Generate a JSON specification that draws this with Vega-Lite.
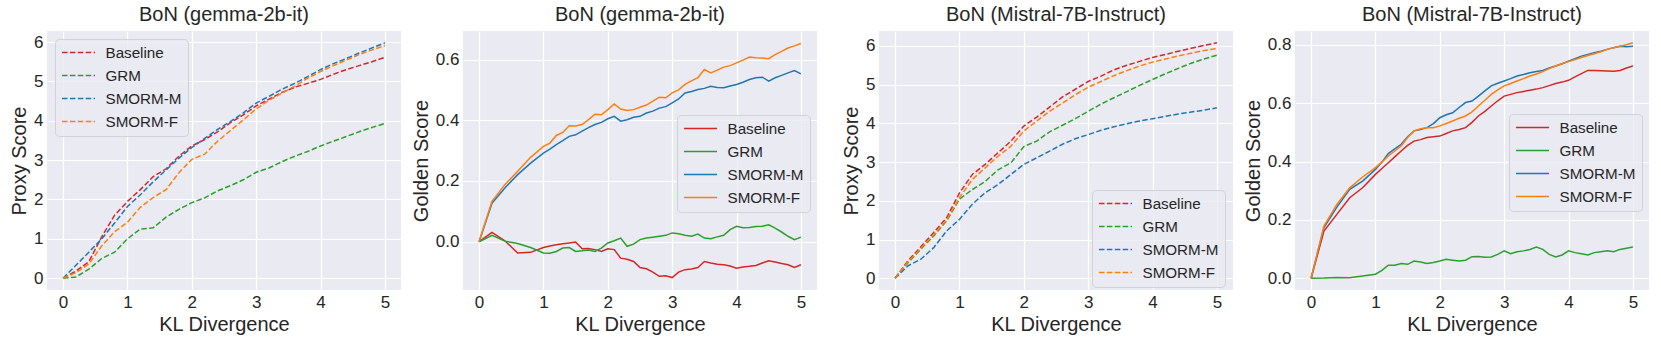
{
  "$schema": "https://vega.github.io/schema/vega-lite/v6.json",
  "background": "white",
  "padding": {"left": 9, "top": 5, "right": 2, "bottom": 5},
  "bounds": "flush",
  "spacing": 62,
  "config": {
    "font": "Liberation Sans",
    "view": {"fill": "#EAEAF2", "stroke": null},
    "axis": {
      "domain": false, "ticks": false, "grid": true, "gridColor": "white", "gridWidth": 1.2,
      "labelFont": "Liberation Sans", "labelFontSize": 17, "labelColor": "#262626", "labelPadding": 4,
      "titleFont": "Liberation Sans", "titleFontSize": 20, "titleColor": "#262626", "titleFontWeight": "normal", "titlePadding": 4
    },
    "title": {"font": "Liberation Sans", "fontSize": 20, "fontWeight": "normal", "color": "#262626", "offset": 6},
    "legend": {
      "labelFont": "Liberation Sans", "labelFontSize": 15.2, "labelColor": "#262626",
      "symbolType": "stroke", "symbolStrokeWidth": 1.5, "symbolSize": 1089, "clipHeight": 15, "rowPadding": 7, "labelOffset": 9.5,
      "fillColor": "rgba(234,234,242,0.8)", "strokeColor": "rgba(204,204,204,0.8)", "cornerRadius": 4, "padding": 6,
      "title": null
    }
  },
  "datasets": {
    "p1": [
      {"kl": 0, "Baseline": 0, "GRM": 0, "SMORM-M": 0, "SMORM-F": 0},
      {"kl": 0.2, "Baseline": 0.18, "GRM": 0.03, "SMORM-M": 0.33, "SMORM-F": 0.14},
      {"kl": 0.4, "Baseline": 0.42, "GRM": 0.23, "SMORM-M": 0.66, "SMORM-F": 0.36},
      {"kl": 0.6, "Baseline": 1.05, "GRM": 0.5, "SMORM-M": 1.0, "SMORM-F": 0.82},
      {"kl": 0.8, "Baseline": 1.6, "GRM": 0.66, "SMORM-M": 1.4, "SMORM-F": 1.18},
      {"kl": 1.0, "Baseline": 1.95, "GRM": 1.0, "SMORM-M": 1.82, "SMORM-F": 1.42},
      {"kl": 1.2, "Baseline": 2.25, "GRM": 1.25, "SMORM-M": 2.12, "SMORM-F": 1.8},
      {"kl": 1.4, "Baseline": 2.58, "GRM": 1.28, "SMORM-M": 2.45, "SMORM-F": 2.05},
      {"kl": 1.6, "Baseline": 2.78, "GRM": 1.55, "SMORM-M": 2.75, "SMORM-F": 2.25},
      {"kl": 1.8, "Baseline": 3.1, "GRM": 1.75, "SMORM-M": 3.05, "SMORM-F": 2.68},
      {"kl": 2.0, "Baseline": 3.36, "GRM": 1.92, "SMORM-M": 3.32, "SMORM-F": 3.02},
      {"kl": 2.2, "Baseline": 3.52, "GRM": 2.04, "SMORM-M": 3.55, "SMORM-F": 3.15},
      {"kl": 2.4, "Baseline": 3.72, "GRM": 2.22, "SMORM-M": 3.78, "SMORM-F": 3.48},
      {"kl": 2.6, "Baseline": 3.95, "GRM": 2.35, "SMORM-M": 3.98, "SMORM-F": 3.75},
      {"kl": 2.8, "Baseline": 4.15, "GRM": 2.5, "SMORM-M": 4.2, "SMORM-F": 4.02},
      {"kl": 3.0, "Baseline": 4.38, "GRM": 2.69, "SMORM-M": 4.45, "SMORM-F": 4.3},
      {"kl": 3.2, "Baseline": 4.55, "GRM": 2.8, "SMORM-M": 4.62, "SMORM-F": 4.52},
      {"kl": 3.4, "Baseline": 4.72, "GRM": 2.96, "SMORM-M": 4.8, "SMORM-F": 4.7},
      {"kl": 3.6, "Baseline": 4.85, "GRM": 3.1, "SMORM-M": 4.95, "SMORM-F": 4.88},
      {"kl": 3.8, "Baseline": 4.95, "GRM": 3.22, "SMORM-M": 5.12, "SMORM-F": 5.08},
      {"kl": 4.0, "Baseline": 5.05, "GRM": 3.36, "SMORM-M": 5.3, "SMORM-F": 5.25},
      {"kl": 4.2, "Baseline": 5.18, "GRM": 3.48, "SMORM-M": 5.45, "SMORM-F": 5.4},
      {"kl": 4.4, "Baseline": 5.3, "GRM": 3.6, "SMORM-M": 5.58, "SMORM-F": 5.54},
      {"kl": 4.6, "Baseline": 5.4, "GRM": 3.72, "SMORM-M": 5.72, "SMORM-F": 5.68},
      {"kl": 4.8, "Baseline": 5.5, "GRM": 3.83, "SMORM-M": 5.85, "SMORM-F": 5.8},
      {"kl": 5.0, "Baseline": 5.61, "GRM": 3.93, "SMORM-M": 5.98, "SMORM-F": 5.91}
    ],
    "p2": [
      {"kl": 0, "Baseline": 0, "GRM": 0, "SMORM-M": 0, "SMORM-F": 0},
      {"kl": 0.2, "Baseline": 0.031, "GRM": 0.021, "SMORM-M": 0.127, "SMORM-F": 0.133},
      {"kl": 0.4, "Baseline": 0.003, "GRM": 0.002, "SMORM-M": 0.177, "SMORM-F": 0.188},
      {"kl": 0.6, "Baseline": -0.037, "GRM": -0.006, "SMORM-M": 0.221, "SMORM-F": 0.232},
      {"kl": 0.8, "Baseline": -0.035, "GRM": -0.019, "SMORM-M": 0.259, "SMORM-F": 0.278},
      {"kl": 1.0, "Baseline": -0.019, "GRM": -0.037, "SMORM-M": 0.292, "SMORM-F": 0.314},
      {"kl": 1.1, "Baseline": -0.014, "GRM": -0.038, "SMORM-M": 0.305, "SMORM-F": 0.325},
      {"kl": 1.2, "Baseline": -0.01, "GRM": -0.032, "SMORM-M": 0.32, "SMORM-F": 0.35},
      {"kl": 1.3, "Baseline": -0.007, "GRM": -0.021, "SMORM-M": 0.333, "SMORM-F": 0.36},
      {"kl": 1.4, "Baseline": -0.004, "GRM": -0.019, "SMORM-M": 0.347, "SMORM-F": 0.382},
      {"kl": 1.5, "Baseline": -0.001, "GRM": -0.032, "SMORM-M": 0.352, "SMORM-F": 0.381},
      {"kl": 1.6, "Baseline": -0.023, "GRM": -0.03, "SMORM-M": 0.364, "SMORM-F": 0.386},
      {"kl": 1.7, "Baseline": -0.022, "GRM": -0.027, "SMORM-M": 0.376, "SMORM-F": 0.402},
      {"kl": 1.8, "Baseline": -0.026, "GRM": -0.032, "SMORM-M": 0.386, "SMORM-F": 0.42},
      {"kl": 1.9, "Baseline": -0.032, "GRM": -0.021, "SMORM-M": 0.393, "SMORM-F": 0.418},
      {"kl": 2.0, "Baseline": -0.023, "GRM": -0.004, "SMORM-M": 0.405, "SMORM-F": 0.435},
      {"kl": 2.1, "Baseline": -0.026, "GRM": 0.003, "SMORM-M": 0.413, "SMORM-F": 0.454},
      {"kl": 2.2, "Baseline": -0.054, "GRM": 0.012, "SMORM-M": 0.397, "SMORM-F": 0.437},
      {"kl": 2.3, "Baseline": -0.058, "GRM": -0.015, "SMORM-M": 0.402, "SMORM-F": 0.432},
      {"kl": 2.4, "Baseline": -0.065, "GRM": -0.008, "SMORM-M": 0.41, "SMORM-F": 0.435},
      {"kl": 2.5, "Baseline": -0.085, "GRM": 0.007, "SMORM-M": 0.413, "SMORM-F": 0.443},
      {"kl": 2.6, "Baseline": -0.089, "GRM": 0.012, "SMORM-M": 0.424, "SMORM-F": 0.45},
      {"kl": 2.7, "Baseline": -0.1, "GRM": 0.015, "SMORM-M": 0.43, "SMORM-F": 0.463},
      {"kl": 2.8, "Baseline": -0.114, "GRM": 0.018, "SMORM-M": 0.44, "SMORM-F": 0.476},
      {"kl": 2.9, "Baseline": -0.112, "GRM": 0.021, "SMORM-M": 0.445, "SMORM-F": 0.474},
      {"kl": 3.0, "Baseline": -0.118, "GRM": 0.029, "SMORM-M": 0.457, "SMORM-F": 0.49},
      {"kl": 3.1, "Baseline": -0.1, "GRM": 0.026, "SMORM-M": 0.47, "SMORM-F": 0.5},
      {"kl": 3.2, "Baseline": -0.092, "GRM": 0.021, "SMORM-M": 0.49, "SMORM-F": 0.518},
      {"kl": 3.3, "Baseline": -0.09, "GRM": 0.018, "SMORM-M": 0.495, "SMORM-F": 0.53},
      {"kl": 3.4, "Baseline": -0.085, "GRM": 0.025, "SMORM-M": 0.501, "SMORM-F": 0.54},
      {"kl": 3.5, "Baseline": -0.065, "GRM": 0.012, "SMORM-M": 0.505, "SMORM-F": 0.567},
      {"kl": 3.6, "Baseline": -0.07, "GRM": 0.01, "SMORM-M": 0.512, "SMORM-F": 0.556},
      {"kl": 3.7, "Baseline": -0.074, "GRM": 0.016, "SMORM-M": 0.508, "SMORM-F": 0.565},
      {"kl": 3.8, "Baseline": -0.076, "GRM": 0.021, "SMORM-M": 0.507, "SMORM-F": 0.575},
      {"kl": 3.9, "Baseline": -0.08, "GRM": 0.04, "SMORM-M": 0.513, "SMORM-F": 0.58},
      {"kl": 4.0, "Baseline": -0.087, "GRM": 0.051, "SMORM-M": 0.518, "SMORM-F": 0.589},
      {"kl": 4.1, "Baseline": -0.083, "GRM": 0.046, "SMORM-M": 0.525, "SMORM-F": 0.598},
      {"kl": 4.2, "Baseline": -0.081, "GRM": 0.047, "SMORM-M": 0.534, "SMORM-F": 0.608},
      {"kl": 4.3, "Baseline": -0.078, "GRM": 0.05, "SMORM-M": 0.54, "SMORM-F": 0.606},
      {"kl": 4.4, "Baseline": -0.07, "GRM": 0.051, "SMORM-M": 0.542, "SMORM-F": 0.605},
      {"kl": 4.5, "Baseline": -0.063, "GRM": 0.056, "SMORM-M": 0.529, "SMORM-F": 0.603},
      {"kl": 4.6, "Baseline": -0.067, "GRM": 0.045, "SMORM-M": 0.54, "SMORM-F": 0.616},
      {"kl": 4.7, "Baseline": -0.072, "GRM": 0.032, "SMORM-M": 0.548, "SMORM-F": 0.627},
      {"kl": 4.8, "Baseline": -0.076, "GRM": 0.018, "SMORM-M": 0.556, "SMORM-F": 0.638},
      {"kl": 4.9, "Baseline": -0.085, "GRM": 0.007, "SMORM-M": 0.564, "SMORM-F": 0.645},
      {"kl": 5.0, "Baseline": -0.076, "GRM": 0.015, "SMORM-M": 0.553, "SMORM-F": 0.653}
    ],
    "p3": [
      {"kl": 0, "Baseline": 0, "GRM": 0, "SMORM-M": 0, "SMORM-F": 0},
      {"kl": 0.2, "Baseline": 0.45, "GRM": 0.4, "SMORM-M": 0.32, "SMORM-F": 0.42},
      {"kl": 0.4, "Baseline": 0.81, "GRM": 0.75, "SMORM-M": 0.49, "SMORM-F": 0.77},
      {"kl": 0.6, "Baseline": 1.18, "GRM": 1.09, "SMORM-M": 0.79, "SMORM-F": 1.12},
      {"kl": 0.8, "Baseline": 1.56, "GRM": 1.48, "SMORM-M": 1.22, "SMORM-F": 1.5},
      {"kl": 1.0, "Baseline": 2.2, "GRM": 2.04, "SMORM-M": 1.52, "SMORM-F": 2.08},
      {"kl": 1.2, "Baseline": 2.68, "GRM": 2.29, "SMORM-M": 1.91, "SMORM-F": 2.55},
      {"kl": 1.4, "Baseline": 2.94, "GRM": 2.5, "SMORM-M": 2.21, "SMORM-F": 2.85},
      {"kl": 1.6, "Baseline": 3.24, "GRM": 2.8, "SMORM-M": 2.42, "SMORM-F": 3.15},
      {"kl": 1.8, "Baseline": 3.54, "GRM": 2.98, "SMORM-M": 2.68, "SMORM-F": 3.41},
      {"kl": 2.0, "Baseline": 3.93, "GRM": 3.4, "SMORM-M": 2.94, "SMORM-F": 3.8},
      {"kl": 2.2, "Baseline": 4.16, "GRM": 3.54, "SMORM-M": 3.11, "SMORM-F": 4.06},
      {"kl": 2.4, "Baseline": 4.42, "GRM": 3.78, "SMORM-M": 3.28, "SMORM-F": 4.31},
      {"kl": 2.6, "Baseline": 4.68, "GRM": 3.95, "SMORM-M": 3.46, "SMORM-F": 4.52},
      {"kl": 2.8, "Baseline": 4.88, "GRM": 4.12, "SMORM-M": 3.6, "SMORM-F": 4.74},
      {"kl": 3.0, "Baseline": 5.08, "GRM": 4.31, "SMORM-M": 3.71, "SMORM-F": 4.93},
      {"kl": 3.2, "Baseline": 5.22, "GRM": 4.5, "SMORM-M": 3.82, "SMORM-F": 5.08},
      {"kl": 3.4, "Baseline": 5.38, "GRM": 4.66, "SMORM-M": 3.91, "SMORM-F": 5.23},
      {"kl": 3.6, "Baseline": 5.5, "GRM": 4.82, "SMORM-M": 3.99, "SMORM-F": 5.36},
      {"kl": 3.8, "Baseline": 5.6, "GRM": 4.98, "SMORM-M": 4.06, "SMORM-F": 5.48},
      {"kl": 4.0, "Baseline": 5.7, "GRM": 5.13, "SMORM-M": 4.12, "SMORM-F": 5.58},
      {"kl": 4.2, "Baseline": 5.78, "GRM": 5.28, "SMORM-M": 4.18, "SMORM-F": 5.66},
      {"kl": 4.4, "Baseline": 5.86, "GRM": 5.42, "SMORM-M": 4.24, "SMORM-F": 5.74},
      {"kl": 4.6, "Baseline": 5.94, "GRM": 5.55, "SMORM-M": 4.29, "SMORM-F": 5.81},
      {"kl": 4.8, "Baseline": 6.01, "GRM": 5.66, "SMORM-M": 4.34, "SMORM-F": 5.88},
      {"kl": 5.0, "Baseline": 6.08, "GRM": 5.76, "SMORM-M": 4.4, "SMORM-F": 5.93}
    ],
    "p4": [
      {"kl": 0, "Baseline": 0, "GRM": 0, "SMORM-M": 0, "SMORM-F": 0},
      {"kl": 0.2, "Baseline": 0.162, "GRM": 0.001, "SMORM-M": 0.174, "SMORM-F": 0.179},
      {"kl": 0.4, "Baseline": 0.219, "GRM": 0.003, "SMORM-M": 0.244, "SMORM-F": 0.253},
      {"kl": 0.6, "Baseline": 0.276, "GRM": 0.002, "SMORM-M": 0.305, "SMORM-F": 0.31},
      {"kl": 0.8, "Baseline": 0.31, "GRM": 0.008, "SMORM-M": 0.333, "SMORM-F": 0.347},
      {"kl": 1.0, "Baseline": 0.356, "GRM": 0.014, "SMORM-M": 0.373, "SMORM-F": 0.379},
      {"kl": 1.1, "Baseline": 0.376, "GRM": 0.027, "SMORM-M": 0.398, "SMORM-F": 0.398},
      {"kl": 1.2, "Baseline": 0.396, "GRM": 0.045, "SMORM-M": 0.427, "SMORM-F": 0.419},
      {"kl": 1.3, "Baseline": 0.416, "GRM": 0.045, "SMORM-M": 0.443, "SMORM-F": 0.436},
      {"kl": 1.4, "Baseline": 0.436, "GRM": 0.051, "SMORM-M": 0.459, "SMORM-F": 0.453},
      {"kl": 1.5, "Baseline": 0.455, "GRM": 0.048, "SMORM-M": 0.485, "SMORM-F": 0.482},
      {"kl": 1.6, "Baseline": 0.47, "GRM": 0.059, "SMORM-M": 0.505, "SMORM-F": 0.505},
      {"kl": 1.7, "Baseline": 0.475, "GRM": 0.056, "SMORM-M": 0.51, "SMORM-F": 0.512},
      {"kl": 1.8, "Baseline": 0.482, "GRM": 0.051, "SMORM-M": 0.516, "SMORM-F": 0.516},
      {"kl": 1.9, "Baseline": 0.485, "GRM": 0.054, "SMORM-M": 0.53, "SMORM-F": 0.516},
      {"kl": 2.0, "Baseline": 0.487, "GRM": 0.059, "SMORM-M": 0.55, "SMORM-F": 0.522},
      {"kl": 2.1, "Baseline": 0.496, "GRM": 0.065, "SMORM-M": 0.56, "SMORM-F": 0.53},
      {"kl": 2.2, "Baseline": 0.505, "GRM": 0.062, "SMORM-M": 0.567, "SMORM-F": 0.539},
      {"kl": 2.3, "Baseline": 0.51, "GRM": 0.059, "SMORM-M": 0.585, "SMORM-F": 0.548},
      {"kl": 2.4, "Baseline": 0.516, "GRM": 0.062, "SMORM-M": 0.602, "SMORM-F": 0.556},
      {"kl": 2.5, "Baseline": 0.534, "GRM": 0.074, "SMORM-M": 0.607, "SMORM-F": 0.57},
      {"kl": 2.6, "Baseline": 0.556, "GRM": 0.075, "SMORM-M": 0.624, "SMORM-F": 0.59},
      {"kl": 2.7, "Baseline": 0.572, "GRM": 0.072, "SMORM-M": 0.642, "SMORM-F": 0.61},
      {"kl": 2.8, "Baseline": 0.59, "GRM": 0.073, "SMORM-M": 0.659, "SMORM-F": 0.63},
      {"kl": 2.9, "Baseline": 0.608, "GRM": 0.082, "SMORM-M": 0.668, "SMORM-F": 0.645},
      {"kl": 3.0, "Baseline": 0.624, "GRM": 0.094, "SMORM-M": 0.676, "SMORM-F": 0.659},
      {"kl": 3.1, "Baseline": 0.63, "GRM": 0.084, "SMORM-M": 0.684, "SMORM-F": 0.667},
      {"kl": 3.2, "Baseline": 0.636, "GRM": 0.091, "SMORM-M": 0.693, "SMORM-F": 0.676},
      {"kl": 3.3, "Baseline": 0.64, "GRM": 0.094, "SMORM-M": 0.698, "SMORM-F": 0.684},
      {"kl": 3.4, "Baseline": 0.644, "GRM": 0.099, "SMORM-M": 0.704, "SMORM-F": 0.693},
      {"kl": 3.5, "Baseline": 0.648, "GRM": 0.107, "SMORM-M": 0.708, "SMORM-F": 0.7},
      {"kl": 3.6, "Baseline": 0.653, "GRM": 0.099, "SMORM-M": 0.712, "SMORM-F": 0.708},
      {"kl": 3.7, "Baseline": 0.66, "GRM": 0.082, "SMORM-M": 0.72, "SMORM-F": 0.718},
      {"kl": 3.8, "Baseline": 0.667, "GRM": 0.073, "SMORM-M": 0.727, "SMORM-F": 0.727},
      {"kl": 3.9, "Baseline": 0.672, "GRM": 0.08, "SMORM-M": 0.735, "SMORM-F": 0.735},
      {"kl": 4.0, "Baseline": 0.678, "GRM": 0.094, "SMORM-M": 0.744, "SMORM-F": 0.742},
      {"kl": 4.1, "Baseline": 0.69, "GRM": 0.088, "SMORM-M": 0.752, "SMORM-F": 0.749},
      {"kl": 4.2, "Baseline": 0.701, "GRM": 0.084, "SMORM-M": 0.761, "SMORM-F": 0.756},
      {"kl": 4.3, "Baseline": 0.712, "GRM": 0.08, "SMORM-M": 0.767, "SMORM-F": 0.763},
      {"kl": 4.4, "Baseline": 0.712, "GRM": 0.088, "SMORM-M": 0.773, "SMORM-F": 0.769},
      {"kl": 4.5, "Baseline": 0.711, "GRM": 0.091, "SMORM-M": 0.778, "SMORM-F": 0.776},
      {"kl": 4.6, "Baseline": 0.71, "GRM": 0.094, "SMORM-M": 0.784, "SMORM-F": 0.784},
      {"kl": 4.7, "Baseline": 0.709, "GRM": 0.091, "SMORM-M": 0.79, "SMORM-F": 0.79},
      {"kl": 4.8, "Baseline": 0.712, "GRM": 0.099, "SMORM-M": 0.795, "SMORM-F": 0.795},
      {"kl": 4.9, "Baseline": 0.72, "GRM": 0.103, "SMORM-M": 0.793, "SMORM-F": 0.8},
      {"kl": 5.0, "Baseline": 0.727, "GRM": 0.107, "SMORM-M": 0.795, "SMORM-F": 0.807}
    ]
  },
  "hconcat": [
    {
      "width": 354, "height": 259,
      "title": "BoN (gemma-2b-it)",
      "data": {"name": "p1"},
      "transform": [{"fold": ["Baseline", "GRM", "SMORM-M", "SMORM-F"], "as": ["method", "score"]}],
      "mark": {"type": "line", "strokeWidth": 1.5, "strokeDash": [5.5, 2.4], "clip": true},
      "encoding": {
        "x": {"field": "kl", "type": "quantitative", "scale": {"domain": [-0.25, 5.25], "nice": false, "zero": false}, "axis": {"values": [0, 1, 2, 3, 4, 5], "title": "KL Divergence", "format": "d"}},
        "y": {"field": "score", "type": "quantitative", "scale": {"domain": [-0.3, 6.28], "nice": false, "zero": false}, "axis": {"values": [0, 1, 2, 3, 4, 5, 6], "title": "Proxy Score", "format": "d"}},
        "color": {"field": "method", "type": "nominal", "scale": {"domain": ["Baseline", "GRM", "SMORM-M", "SMORM-F"], "range": ["#d62728", "#2ca02c", "#1f77b4", "#ff7f0e"]}, "legend": {"orient": "none", "legendX": 8, "legendY": 8, "symbolDash": [5.5, 2.4]}}
      }
    },
    {
      "width": 354, "height": 259,
      "title": "BoN (gemma-2b-it)",
      "data": {"name": "p2"},
      "transform": [{"fold": ["Baseline", "GRM", "SMORM-M", "SMORM-F"], "as": ["method", "score"]}],
      "mark": {"type": "line", "strokeWidth": 1.5, "clip": true},
      "encoding": {
        "x": {"field": "kl", "type": "quantitative", "scale": {"domain": [-0.25, 5.25], "nice": false, "zero": false}, "axis": {"values": [0, 1, 2, 3, 4, 5], "title": "KL Divergence", "format": "d"}},
        "y": {"field": "score", "type": "quantitative", "scale": {"domain": [-0.159, 0.694], "nice": false, "zero": false}, "axis": {"values": [0, 0.2, 0.4, 0.6], "title": "Golden Score", "format": ".1f"}},
        "color": {"field": "method", "type": "nominal", "scale": {"domain": ["Baseline", "GRM", "SMORM-M", "SMORM-F"], "range": ["#d62728", "#2ca02c", "#1f77b4", "#ff7f0e"]}, "legend": {"orient": "none", "legendX": 214, "legendY": 84}}
      }
    },
    {
      "width": 354, "height": 259,
      "title": "BoN (Mistral-7B-Instruct)",
      "data": {"name": "p3"},
      "transform": [{"fold": ["Baseline", "GRM", "SMORM-M", "SMORM-F"], "as": ["method", "score"]}],
      "mark": {"type": "line", "strokeWidth": 1.5, "strokeDash": [5.5, 2.4], "clip": true},
      "encoding": {
        "x": {"field": "kl", "type": "quantitative", "scale": {"domain": [-0.25, 5.25], "nice": false, "zero": false}, "axis": {"values": [0, 1, 2, 3, 4, 5], "title": "KL Divergence", "format": "d"}},
        "y": {"field": "score", "type": "quantitative", "scale": {"domain": [-0.304, 6.384], "nice": false, "zero": false}, "axis": {"values": [0, 1, 2, 3, 4, 5, 6], "title": "Proxy Score", "format": "d"}},
        "color": {"field": "method", "type": "nominal", "scale": {"domain": ["Baseline", "GRM", "SMORM-M", "SMORM-F"], "range": ["#d62728", "#2ca02c", "#1f77b4", "#ff7f0e"]}, "legend": {"orient": "none", "legendX": 213, "legendY": 159, "symbolDash": [5.5, 2.4]}}
      }
    },
    {
      "width": 354, "height": 259,
      "title": "BoN (Mistral-7B-Instruct)",
      "data": {"name": "p4"},
      "transform": [{"fold": ["Baseline", "GRM", "SMORM-M", "SMORM-F"], "as": ["method", "score"]}],
      "mark": {"type": "line", "strokeWidth": 1.5, "clip": true},
      "encoding": {
        "x": {"field": "kl", "type": "quantitative", "scale": {"domain": [-0.25, 5.25], "nice": false, "zero": false}, "axis": {"values": [0, 1, 2, 3, 4, 5], "title": "KL Divergence", "format": "d"}},
        "y": {"field": "score", "type": "quantitative", "scale": {"domain": [-0.04, 0.847], "nice": false, "zero": false}, "axis": {"values": [0, 0.2, 0.4, 0.6, 0.8], "title": "Golden Score", "format": ".1f"}},
        "color": {"field": "method", "type": "nominal", "scale": {"domain": ["Baseline", "GRM", "SMORM-M", "SMORM-F"], "range": ["#d62728", "#2ca02c", "#1f77b4", "#ff7f0e"]}, "legend": {"orient": "none", "legendX": 214, "legendY": 83}}
      }
    }
  ],
  "resolve": {"scale": {"color": "independent"}, "legend": {"color": "independent"}}
}
